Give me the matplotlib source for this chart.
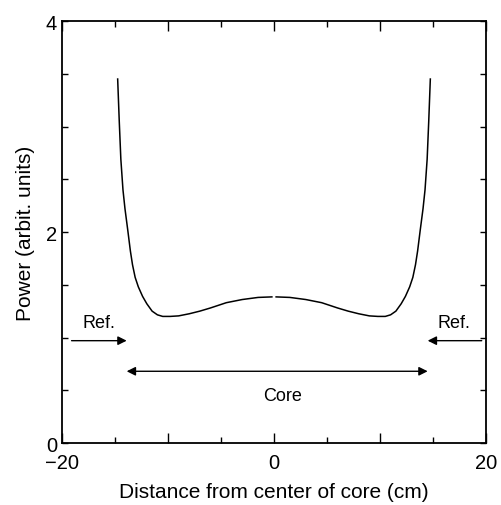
import matplotlib
matplotlib.use("Agg")
import matplotlib.pyplot as plt
from matplotlib.ticker import FixedLocator, MultipleLocator, FuncFormatter

plt.rcParams['font.family'] = ['Liberation Sans', 'DejaVu Sans']

# half of the (symmetric) power profile, distance from center in cm
x_half = [0.2, 1.5, 3.0, 4.5, 6.0, 7.0, 8.0, 9.0, 9.8, 10.5, 11.0, 11.5, 12.0,
          12.4, 12.8, 13.1, 13.35, 13.55, 13.8, 14.06, 14.25, 14.45, 14.6, 14.75]
p_half = [1.385, 1.38, 1.36, 1.33, 1.28, 1.25, 1.225, 1.205, 1.20, 1.20, 1.215,
          1.25, 1.32, 1.39, 1.48, 1.57, 1.69, 1.82, 2.02, 2.22, 2.40, 2.69, 3.05, 3.45]

ref_left = (-19.1, -13.9)
ref_right = (19.6, 14.5)
ref_y = 0.97
core_span = (-13.9, 14.5)
core_y = 0.68

fig = plt.figure(figsize=(5.01, 5.06), dpi=100)
ax = fig.add_axes([0.1238, 0.1225, 0.8462, 0.834])

ax.plot([-v for v in x_half], p_half, color='black', lw=1.1)
ax.plot(x_half, p_half, color='black', lw=1.1)

arrow = dict(arrowstyle='-|>', color='black', lw=1.0, mutation_scale=13,
             shrinkA=0, shrinkB=0)
ax.annotate('', xy=(ref_left[1], ref_y), xytext=(ref_left[0], ref_y), arrowprops=arrow)
ax.annotate('', xy=(ref_right[1], ref_y), xytext=(ref_right[0], ref_y), arrowprops=arrow)
both = dict(arrow, arrowstyle='<|-|>')
ax.annotate('', xy=(core_span[1], core_y), xytext=(core_span[0], core_y), arrowprops=both)

ax.text(-16.5, 1.14, 'Ref.', ha='center', va='center', fontsize=13)
ax.text(17.0, 1.14, 'Ref.', ha='center', va='center', fontsize=13)
ax.text(0.85, 0.45, 'Core', ha='center', va='center', fontsize=13)

ax.set_xlim(-20, 20)
ax.set_ylim(0, 4)
ax.xaxis.set_major_locator(FixedLocator([-20, -10, 0, 10, 20]))
ax.xaxis.set_minor_locator(MultipleLocator(5))
ax.xaxis.set_major_formatter(FuncFormatter(
    lambda v, p: ('\u2212%d' % abs(v) if v < 0 else '%d' % v) if v in (-20, 0, 20) else ''))
ax.yaxis.set_major_locator(FixedLocator([0, 2, 4]))
ax.yaxis.set_minor_locator(MultipleLocator(0.5))

ax.tick_params(which='both', direction='in', top=True, right=True, labelsize=14.5)
ax.tick_params(which='major', length=7, width=1.0)
ax.tick_params(which='minor', length=4, width=1.0)
ax.tick_params(axis='y', which='major', length=4)
ax.tick_params(axis='x', which='major', pad=7)
for s in ax.spines.values():
    s.set_linewidth(1.3)

ax.set_xlabel('Distance from center of core (cm)', fontsize=15, labelpad=7.5)
ax.set_ylabel('Power (arbit. units)', fontsize=15, labelpad=8)

fig.savefig('out.png', dpi=100)
